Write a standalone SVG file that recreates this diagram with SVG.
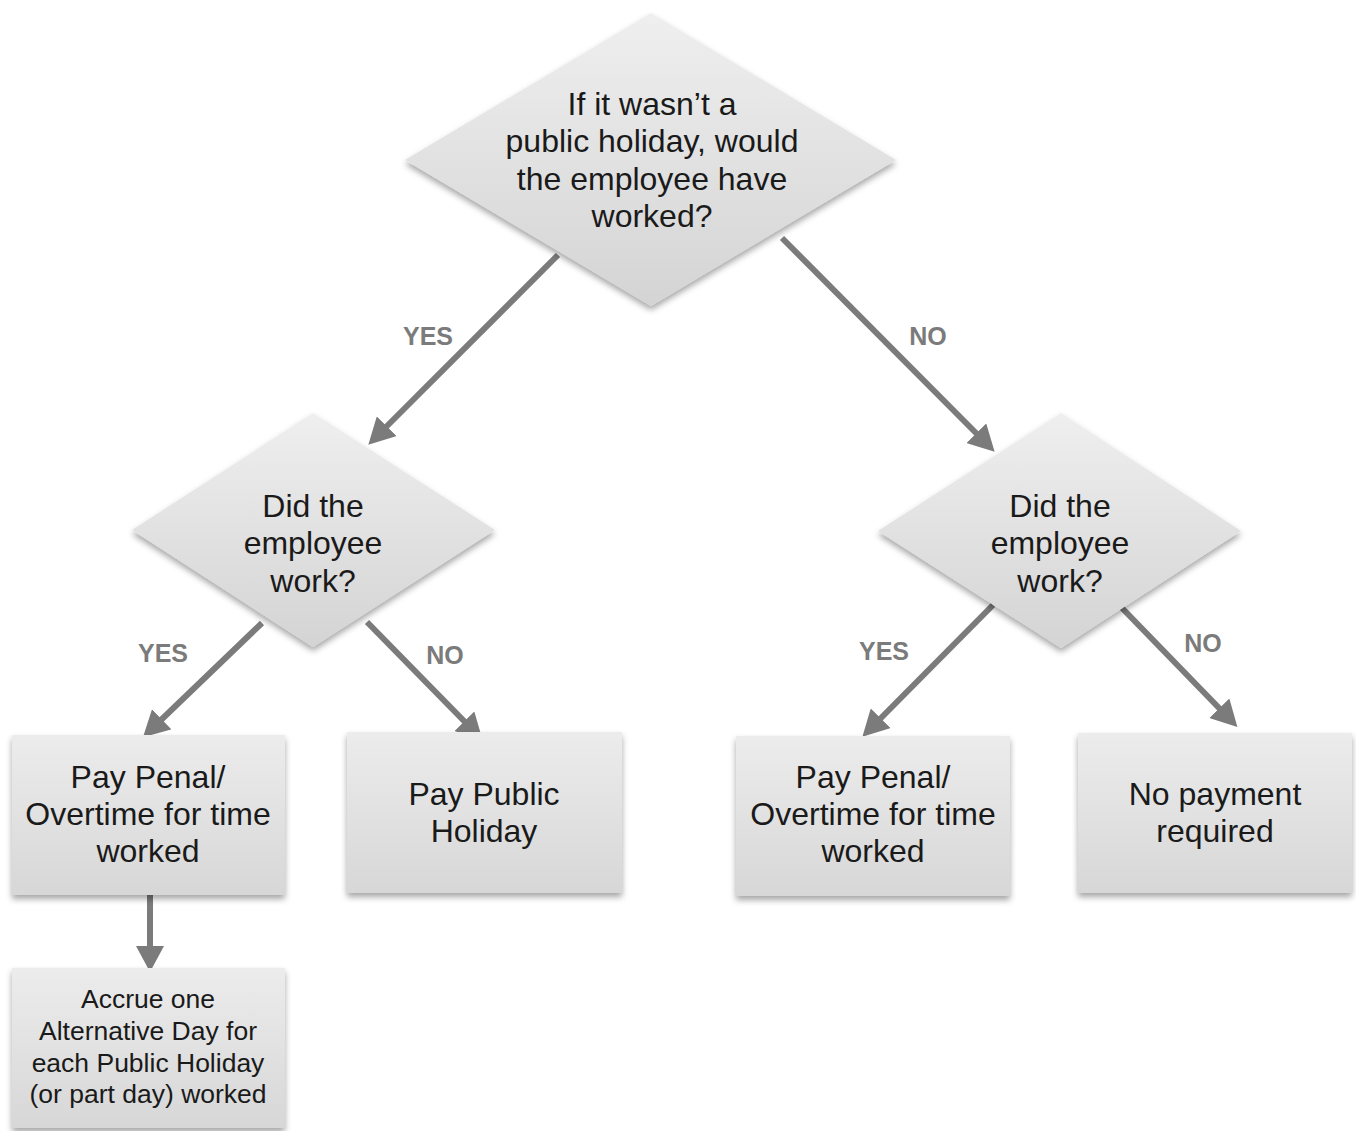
<svg xmlns="http://www.w3.org/2000/svg" width="1356" height="1131" viewBox="0 0 1356 1131">
<style>
.node{filter:url(#shadow)}
.dia{fill:url(#gd)}
.box{fill:url(#gb)}
.t{font-family:"Liberation Sans",Arial,sans-serif;font-size:32px;fill:#1a1a1a;text-anchor:middle}
.ts{font-family:"Liberation Sans",Arial,sans-serif;font-size:26.5px;fill:#1a1a1a;text-anchor:middle}
.lbl{font-family:"Liberation Sans",Arial,sans-serif;font-size:25px;font-weight:bold;fill:#7b7b7b;text-anchor:middle}
.c{stroke:#7b7b7b;stroke-width:6;fill:none;marker-end:url(#ah)}
</style>
<defs>
<linearGradient id="gd" x1="0" y1="0" x2="0" y2="1">
<stop offset="0" stop-color="#efefef"/>
<stop offset="1" stop-color="#d4d4d4"/>
</linearGradient>
<linearGradient id="gb" x1="0" y1="0" x2="0" y2="1">
<stop offset="0" stop-color="#ececec"/>
<stop offset="1" stop-color="#d7d7d7"/>
</linearGradient>
<filter id="shadow" x="-10%" y="-10%" width="120%" height="125%">
<feDropShadow dx="0" dy="4" stdDeviation="3" flood-color="#000" flood-opacity="0.35"/>
</filter>
<marker id="ah" viewBox="0 0 26 28" markerWidth="26" markerHeight="28" refX="1" refY="14" orient="auto" markerUnits="userSpaceOnUse">
<path d="M0,0 L26,14 L0,28 Z" fill="#7b7b7b"/>
</marker>
</defs>
<rect width="1356" height="1131" fill="#ffffff"/>

<g id="connectors">
<line class="c" x1="558" y1="255" x2="386" y2="427"/>
<line class="c" x1="782" y1="238" x2="977" y2="434"/>
<line class="c" x1="262" y1="623" x2="161" y2="720"/>
<line class="c" x1="367" y1="622" x2="465" y2="722"/>
<line class="c" x1="993" y1="605" x2="880" y2="719"/>
<line class="c" x1="1122" y1="608" x2="1220" y2="709"/>
<line class="c" x1="150" y1="893" x2="150" y2="947"/>
<text class="lbl" x="428" y="345">YES</text>
<text class="lbl" x="928" y="345">NO</text>
<text class="lbl" x="163" y="662">YES</text>
<text class="lbl" x="445" y="664">NO</text>
<text class="lbl" x="884" y="660">YES</text>
<text class="lbl" x="1203" y="652">NO</text>
</g>

<g id="q1">
<polygon class="node dia" points="651,13 896,160 651,306 405,160"/>
<text class="t" x="652" y="115">If it wasn’t a</text>
<text class="t" x="652" y="152">public holiday, would</text>
<text class="t" x="652" y="190">the employee have</text>
<text class="t" x="652" y="227">worked?</text>
</g>

<g id="q2">
<polygon class="node dia" points="313,413 495,530 313,647 132,530"/>
<text class="t" x="313" y="517">Did the</text>
<text class="t" x="313" y="554">employee</text>
<text class="t" x="313" y="592">work?</text>
</g>

<g id="q3">
<polygon class="node dia" points="1061,413 1241,531 1061,648 878,531"/>
<text class="t" x="1060" y="517">Did the</text>
<text class="t" x="1060" y="554">employee</text>
<text class="t" x="1060" y="592">work?</text>
</g>

<g id="b1">
<rect class="node box" x="12" y="735" width="273" height="160"/>
<text class="t" x="148" y="788">Pay Penal/</text>
<text class="t" x="148" y="825">Overtime for time</text>
<text class="t" x="148" y="862">worked</text>
</g>

<g id="b2">
<rect class="node box" x="347" y="732" width="275" height="161"/>
<text class="t" x="484" y="805">Pay Public</text>
<text class="t" x="484" y="842">Holiday</text>
</g>

<g id="b3">
<rect class="node box" x="736" y="736" width="274" height="160"/>
<text class="t" x="873" y="788">Pay Penal/</text>
<text class="t" x="873" y="825">Overtime for time</text>
<text class="t" x="873" y="862">worked</text>
</g>

<g id="b4">
<rect class="node box" x="1078" y="733" width="274" height="160"/>
<text class="t" x="1215" y="805">No payment</text>
<text class="t" x="1215" y="842">required</text>
</g>

<g id="b5">
<rect class="node box" x="12" y="968" width="273" height="160"/>
<text class="ts" x="148" y="1008">Accrue one</text>
<text class="ts" x="148" y="1040">Alternative Day for</text>
<text class="ts" x="148" y="1072">each Public Holiday</text>
<text class="ts" x="148" y="1103">(or part day) worked</text>
</g>
</svg>
